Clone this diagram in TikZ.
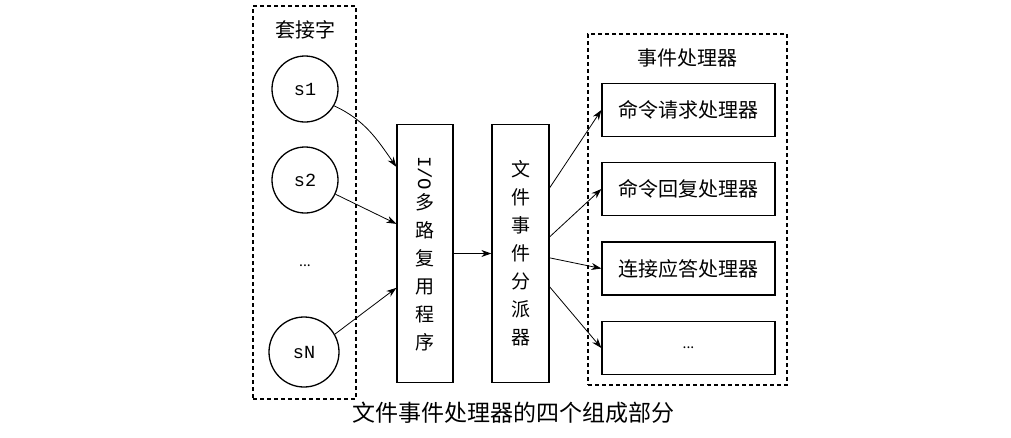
\documentclass[tikz,border=0pt]{standalone}
\usepackage{fontspec}
\setmainfont{Noto Sans CJK SC}
\setmonofont{Liberation Mono}
\usetikzlibrary{arrows.meta}
\tikzset{
  frame/.style    = {draw, dash pattern=on 4pt off 3pt, line width=1.3pt, inner sep=0pt},
  sock/.style     = {draw, circle, line width=1.3pt, minimum size=66pt, inner sep=0pt,
                     font=\ttfamily\fontsize{18.5}{18.5}\selectfont},
  stackbox/.style = {draw, line width=1.3pt, minimum width=56pt, minimum height=258pt,
                     inner sep=0pt, align=center, font=\fontsize{19}{28}\selectfont},
  handler/.style  = {draw, line width=1.3pt, minimum width=173pt, minimum height=53pt,
                     inner sep=0pt, font=\fontsize{20}{20}\selectfont},
  title/.style    = {font=\fontsize{20}{20}\selectfont},
  conn/.style     = {-{Stealth[length=10pt, width=7pt]}, line width=0.8pt},
}

\begin{document}
\begin{tikzpicture}[x=1pt, y=-1pt]

  \useasboundingbox (0,0) rectangle (1011,437);

  % ── sockets ────────────────────────────────────────────────────────────────
  \node[frame, minimum width=103pt, minimum height=393pt] (sockframe) at (304.5, 202.5) {};
  \node[title] (socktitle) at (305, 30) {套接字};

  \node[sock] (s1) at (305, 89)  {s1};
  \node[sock] (s2) at (305, 180) {s2};
  \node[font=\fontsize{14}{14}\selectfont] (sdots) at (305, 266) {...};
  \node[sock, minimum size=70pt] (sN) at (304, 352) {sN};

  % ── I/O multiplexer and dispatcher ─────────────────────────────────────────
  \node[stackbox] (iomux) at (425, 253.5)
    {\rotatebox{-90}{\ttfamily I/O}\\[2pt]多\\路\\复\\用\\程\\序};
  \node[stackbox, minimum width=57pt] (dispatch) at (520.5, 253.5)
    {文\\件\\事\\件\\分\\派\\器};

  % ── event handlers ─────────────────────────────────────────────────────────
  \node[frame, minimum width=199pt, minimum height=351pt] (handframe) at (687.5, 209.5) {};
  \node[title] (handtitle) at (687, 58) {事件处理器};

  \node[handler] (h1) at (688.5, 110)   {命令请求处理器};
  \node[handler] (h2) at (688.5, 189)   {命令回复处理器};
  \node[handler] (h3) at (688.5, 268.5) {连接应答处理器};
  \node[handler] (h4) at (688.5, 348)   {\fontsize{14}{14}\selectfont ...};

  % caption
  \node[font=\fontsize{23}{23}\selectfont] (caption) at (513, 413)
    {文件事件处理器的四个组成部分};

  % ── connectors ─────────────────────────────────────────────────────────────
  \draw[conn] (s1.-30) to[out=-25, in=125] ([yshift=-43pt]iomux.north west);
  \draw[conn] (s2.-25) -- ([yshift=-100pt]iomux.north west);
  \draw[conn] (sN.30)  -- ([yshift=-164pt]iomux.north west);

  \draw[conn] (iomux.east) -- (dispatch.west);

  \draw[conn] ([yshift=-64pt]dispatch.north east)  -- (h1.west);
  \draw[conn] ([yshift=-113pt]dispatch.north east) -- (h2.west);
  \draw[conn] ([yshift=-134pt]dispatch.north east) -- (h3.west);
  \draw[conn] ([yshift=-163pt]dispatch.north east) -- (h4.west);

\end{tikzpicture}
\end{document}
